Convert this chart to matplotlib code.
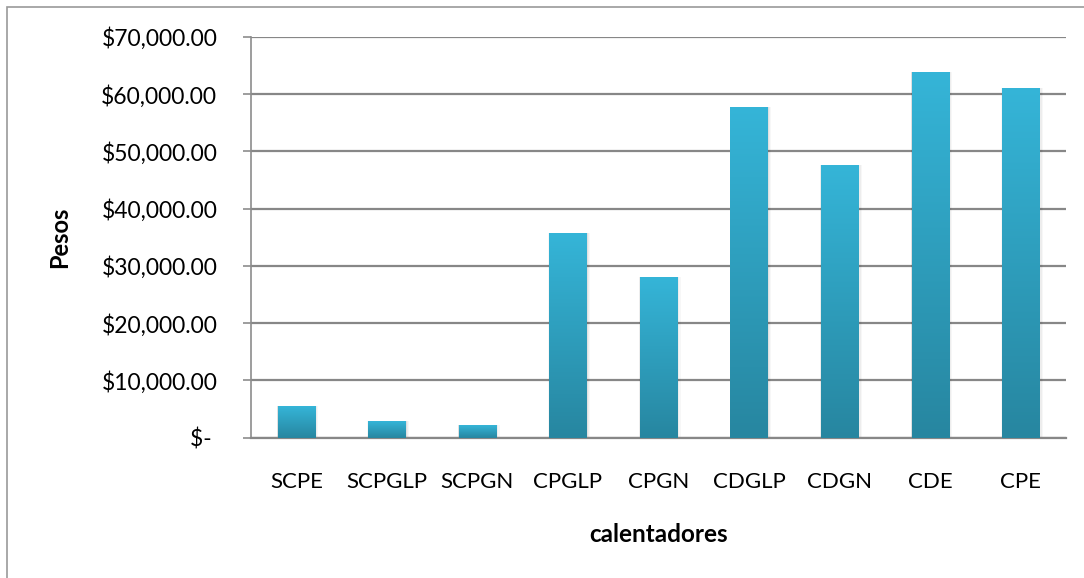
import numpy as np
import matplotlib
matplotlib.use("Agg")
import matplotlib.pyplot as plt
from matplotlib.patches import Rectangle
from matplotlib.colors import LinearSegmentedColormap
from matplotlib.ticker import FuncFormatter

# Costo por tipo de calentador
calentadores = ["SCPE", "SCPGLP", "SCPGN", "CPGLP", "CPGN", "CDGLP", "CDGN", "CDE", "CPE"]
pesos = [5520, 2910, 2210, 35700, 28020, 57840, 47560, 63970, 61170]
y_ticks = [0, 10000, 20000, 30000, 40000, 50000, 60000, 70000]

def money(v, pos):
    if v == 0:
        return "$- "
    return "${:,.2f}".format(v)

plt.rcParams['font.family'] = ['Lato', 'DejaVu Sans']

fig = plt.figure(figsize=(10.84, 5.78), dpi=100)
ax = fig.add_axes([251/1084, 0.2427, 815/1084, 0.6933])

# outer chart border
fig.patches.append(Rectangle((7/1084, -0.01), 1.02, 1 - 7/578 + 0.01, transform=fig.transFigure,
                             fill=False, edgecolor="#9a9a9a", linewidth=1.2, zorder=0))

x = np.arange(len(calentadores))
width = 0.41
bars = ax.bar(x, pesos, width=width, color="none", zorder=3)

grad = LinearSegmentedColormap.from_list("barra", ["#2786a0", "#35b5d8"])
for b in bars:
    x0, y0 = b.get_x(), b.get_y()
    w, h = b.get_width(), b.get_height()
    # soft shadow behind each bar
    for k, a in enumerate([0.05, 0.04, 0.03]):
        d = 0.012 * (k + 1)
        ax.add_patch(Rectangle((x0 - d * 0.3, y0 - 250 * (k + 1)), w + d * 1.4, h + 250 * (k + 1),
                               color="black", alpha=a, linewidth=0, zorder=2))
    img = ax.imshow(np.linspace(0, 1, 256).reshape(-1, 1), cmap=grad, aspect="auto",
                    extent=(x0, x0 + w, y0, y0 + h), origin="lower", zorder=3)
    clip = Rectangle((x0, y0), w, h, transform=ax.transData)
    img.set_clip_path(clip)

ax.set_xlim(-0.5, len(calentadores) - 0.5)
ax.set_ylim(0, 70000)
ax.set_yticks(y_ticks)
ax.yaxis.set_major_formatter(FuncFormatter(money))
ax.set_xticks(x)
ax.set_xticklabels(calentadores)

ax.grid(axis="y", color="#878787", linewidth=1.6, zorder=1)
ax.set_axisbelow(True)
for s in ["top", "right"]:
    ax.spines[s].set_visible(False)
ax.spines["left"].set_color("#8c8c8c")
ax.spines["left"].set_linewidth(1.2)
ax.spines["bottom"].set_color("#878787")
ax.spines["bottom"].set_linewidth(1.6)

ax.tick_params(axis="y", length=5.8, width=1.2, color="#8c8c8c", pad=18.5, labelsize=16.5, labelcolor="black")
ax.tick_params(axis="x", length=0, pad=25, labelsize=16, labelcolor="black")

ax.set_ylabel("Pesos", fontsize=17, fontweight="bold", labelpad=22)
ax.set_xlabel("calentadores", fontsize=17.5, fontweight="bold", labelpad=22)

fig.savefig("out.png", dpi=100, facecolor="white")
